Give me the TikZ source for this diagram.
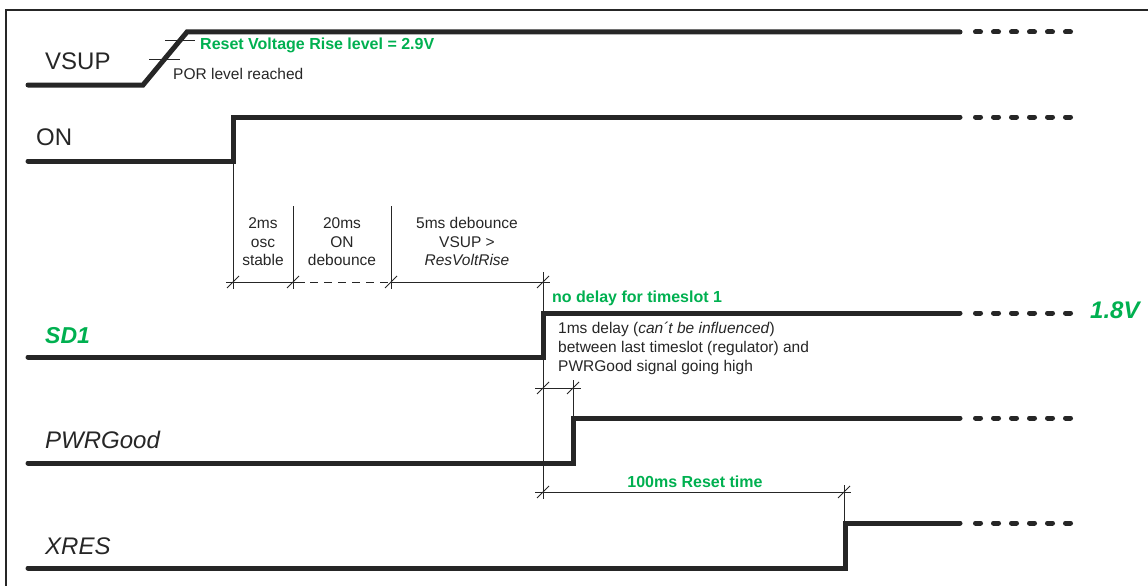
\documentclass[tikz,border=0pt]{standalone}
\usepackage{fontspec}
\setmainfont{Liberation Sans}
\usepackage{xcolor}
\usetikzlibrary{calc}

\definecolor{sigdark}{HTML}{262626}
\definecolor{notegreen}{HTML}{00B050}

\begin{document}
\begin{tikzpicture}[
    x=1pt, y=-1pt,
    sig/.style={draw=sigdark, line width=5pt, line cap=round, line join=miter},
    cont/.style={draw=sigdark, line width=5pt, line cap=round, dash pattern=on 5pt off 13pt},
    dimline/.style={draw=sigdark, line width=0.9pt},
    frame/.style={draw=sigdark, line width=2pt},
    siglbl/.style={anchor=base west, inner sep=0pt, text=sigdark, font=\fontsize{24}{28}\selectfont},
    note/.style={anchor=base west, inner sep=0pt, text=sigdark, font=\fontsize{15.5}{19}\selectfont},
    greennote/.style={inner sep=0pt, text=notegreen, font=\fontsize{16}{19}\selectfont\bfseries},
    dimtext/.style={anchor=south, inner sep=0pt, align=center, text=sigdark, font=\fontsize{15.5}{18.5}\selectfont}
]
\useasboundingbox (0,0) rectangle (1148,586);

% Frame
\draw[frame] (6,586) -- (6,10) -- (1148,10);

% VSUP
\node[siglbl] (l_vsup) at (45,70) {VSUP};
\draw[sig] (28,85) -- (143,85) -- (187,32) -- (960,32);
\draw[cont] (975.5,32) -- (1072,32);
\draw[dimline] (165,40) -- (195,40);
\draw[dimline] (149,59) -- (180,59);
\node[greennote, anchor=base west] (n_reset) at (200,49) {Reset Voltage Rise level = 2.9V};
\node[note] (n_por) at (173,79) {POR level reached};

% ON
\node[siglbl] (l_on) at (36,145) {ON};
\draw[sig] (28,161) -- (233,161) -- (233,117) -- (960,117);
\draw[cont] (975.5,117) -- (1072,117);

% SD1
\node[siglbl, text=notegreen, font=\fontsize{23}{28}\selectfont\bfseries\itshape] (l_sd1) at (45,343) {SD1};
\draw[sig] (28,357) -- (543,357) -- (543,313) -- (960,313);
\draw[cont] (975.5,313) -- (1072,313);
\node[siglbl, text=notegreen, font=\fontsize{24}{28}\selectfont\bfseries\itshape] (l_volt) at (1090,318) {1.8V};

% PWRGood
\node[siglbl, font=\fontsize{24}{28}\selectfont\itshape] (l_pwr) at (45,448) {PWRGood};
\draw[sig] (28,463) -- (573,463) -- (573,418) -- (960,418);
\draw[cont] (975.5,418) -- (1072,418);

% XRES
\node[siglbl, font=\fontsize{24}{28}\selectfont\itshape] (l_xres) at (45,554) {XRES};
\draw[sig] (28,568) -- (845,568) -- (845,523) -- (960,523);
\draw[cont] (975.5,523) -- (1072,523);

% Debounce timing
\draw[dimline] (233,161) -- (233,289);
\draw[dimline] (293,206) -- (293,289);
\draw[dimline] (391,206) -- (391,289);
\draw[dimline] (543,272) -- (543,499);
\draw[dimline] (226,282) -- (305,282);
\draw[dimline, dash pattern=on 8pt off 6pt] (310,282) -- (391,282);
\draw[dimline] (391,282) -- (550,282);
\node[dimtext] (d_osc) at (263,266) {2ms\\osc\\stable};
\node[dimtext] (d_on) at (342,266) {20ms\\ON\\debounce};
\node[dimtext] (d_vsup) at (467,266) {5ms debounce\\VSUP >\\\textit{ResVoltRise}};
\node[greennote, anchor=base west] (n_nodelay) at (552,302) {no delay for timeslot 1};

% PWRGood delay
\node[note] (n_delay1) at (558,333) {1ms delay (\textit{can´t be influenced})};
\node[note] (n_delay2) at (558,352) {between last timeslot (regulator) and};
\node[note] (n_delay3) at (558,371) {PWRGood signal going high};
\draw[dimline] (573,380) -- (573,418);
\draw[dimline] (535,388) -- (581,388);

% Reset time
\draw[dimline] (844,485) -- (844,523);
\draw[dimline] (535,492) -- (851,492);
\node[greennote, anchor=base] (n_reset_t) at (695,487) {100ms Reset time};

% Ticks
\foreach \px/\py in {233/282, 293/282, 391/282, 543/282, 543/388, 573/388, 543/492, 844/492}
    \draw[dimline, shift={(\px,\py)}] (-6,6) -- (6,-6);

\end{tikzpicture}
\end{document}
